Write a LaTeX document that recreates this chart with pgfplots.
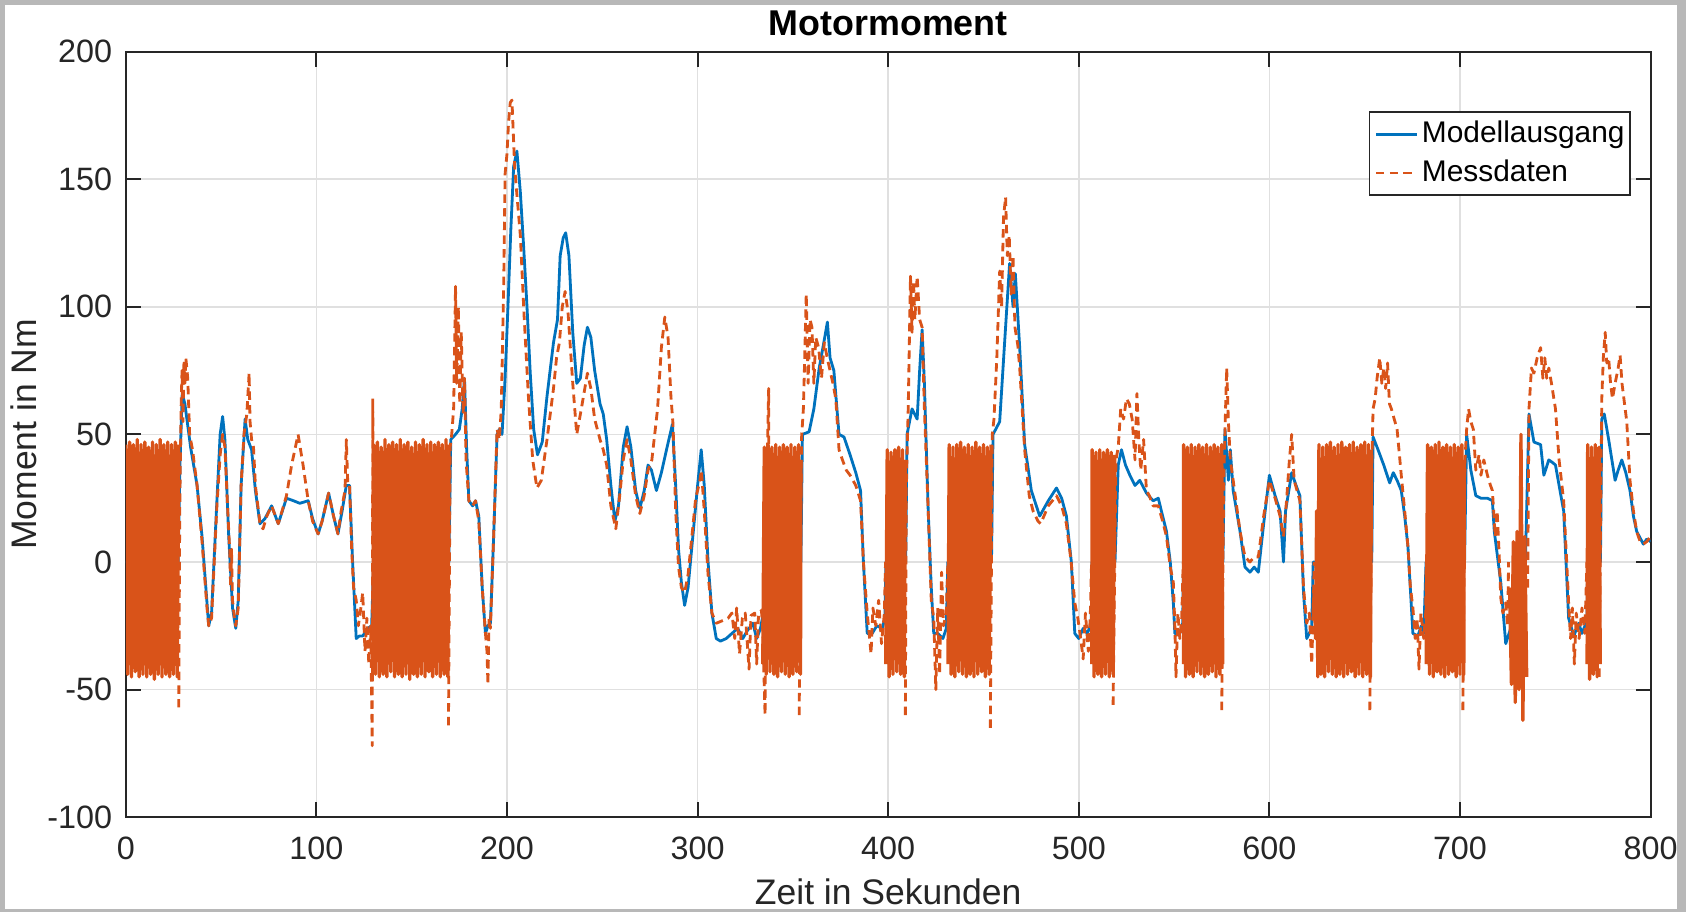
\documentclass[border=0pt]{standalone}
\usepackage{pgfplots}
\pgfplotsset{compat=1.18}
\usepackage{fontspec}
\setmainfont{Liberation Sans}
\definecolor{mblue}{rgb}{0,0.447,0.741}
\definecolor{morange}{rgb}{0.851,0.325,0.098}
\definecolor{axcol}{rgb}{0.15,0.15,0.15}
\begin{document}
\begin{tikzpicture}
\path[use as bounding box] (0,0) rectangle (16.86,9.12);
\fill[black!28] (0,0) rectangle (16.86,9.12);
\fill[white] (0.05,0.03) rectangle (16.77,9.07);
\begin{axis}[
 at={(1.258cm,0.948cm)}, anchor=south west,
 scale only axis, width=15.248cm, height=7.656cm,
 xmin=0, xmax=800, ymin=-100, ymax=200,
 xtick={0,100,...,800}, ytick={-100,-50,...,200},
 /pgf/number format/assume math mode=true,
 ticklabel style={font=\fontsize{9.2}{11}\selectfont, text=black!85},
 xticklabel style={inner sep=0pt, anchor=north, yshift=-0.19cm},
 yticklabel style={inner sep=0pt, anchor=east, xshift=-0.13cm},
 grid=major, grid style={color=black!12, line width=0.5pt},
 axis line style={color=axcol, line width=0.55pt},
 major tick style={color=axcol, line width=0.55pt}, major tick length=0.15cm,
 every axis title shift=0pt,
 title={\textbf{Motormoment}},
 title style={at={(axis description cs:0.5,1)}, anchor=center, yshift=0.28cm, font=\fontsize{10.2}{12}\selectfont},
 xlabel={Zeit in Sekunden},
 xlabel style={at={(axis description cs:0.5,0)}, anchor=center, yshift=-0.75cm, font=\fontsize{10.1}{12}\selectfont, text=black!85},
 ylabel={Moment in Nm},
 ylabel style={at={(axis description cs:-0.0669,0.5)}, anchor=center, font=\fontsize{10.1}{12}\selectfont, text=black!85},
 legend style={at={(rel axis cs:0.987,0.9224)}, anchor=north east, draw=axcol, line width=0.5pt,
   font=\fontsize{8.5}{10}\selectfont, inner xsep=0.5pt, inner ysep=0.5pt, cells={anchor=west}, row sep=-0.6pt,
   nodes={inner xsep=1pt}},
 legend image code/.code={\path (0cm,0cm); \draw[#1] (0.035cm,0cm) -- (0.445cm,0cm);},
 unbounded coords=jump,
]
% Modellausgang
\addplot[mblue, line width=0.8pt, line join=round] coordinates {
(0,0)(27.5,0)(28.5,40)(29.6,66)(31,62)(34,45)(37.4,30)(40,10)(42.6,-16)(43.5,-25)(45,-20)(47.8,24)(49.5,50)(50.8,57)(52,48)(54,10)(56,-18)(57.7,-26)(59,-15)(60.5,30)(62.6,56)(64,48)(66,44)(68,28)(70.4,15)(73,17)(76.5,22)(80,15)(84.3,25)(88,24)(91.3,23)(95.7,24)(98,17)(100.9,11)(103,16)(106.4,27)(109,18)(111.3,11)(113.5,20)(115.7,30)(117.4,30)(119,0)(120.9,-30)(122.5,-29)(124.3,-29)(127,-26)(129,-25)(130,0)
(169.5,0)(170.5,48)(173,50)(175,52)(176.5,60)(177.7,72)(178.8,45)(180,24)(182,22)(183.5,24)(185.2,18)(187,-10)(188.7,-28)(190,-25)(191.3,-24)(193,10)(194.8,50)(196,52)(197.4,50)(199,72)(200.5,100)(202,130)(203.5,155)(205.2,161)(207,145)(208.7,124)(210.5,100)(212.2,74)(214,52)(216,42)(218.5,47)(221,65)(224.4,86)(226.5,95)(227.9,120)(229.5,127)(230.8,129)(232.5,120)(234.5,90)(236.6,70)(238.5,72)(240.5,85)(242.2,92)(244,88)(246,75)(248.8,62)(250.5,58)(252.3,48)(254.5,30)(256.6,16)(258.5,22)(261,45)(263,53)(265,45)(267.5,28)(269.7,21)(272,28)(274,38)(275.8,36)(278.4,28)(281,35)(284,45)(286.8,54)(288.5,30)(290,5)(291.5,-8)(293.2,-17)(295,-10)(297.5,10)(300,30)(301.9,44)(303.5,30)(305.5,0)(307.5,-20)(309.8,-30)(312,-31)(315,-30)(318,-28)(321,-26)(323.7,-30)(326,-27)(329,-24)(331,-30)(333,-26)(334.5,-20)(335,0)
(354.2,0)(355,50)(358.5,51)(361,60)(363.8,76)(366,85)(368.1,94)(369.5,80)(371.5,75)(374.2,50)(376.8,49)(380,42)(383,35)(385.5,28)(387,0)(389,-28)(391.6,-28)(394,-25)(396.9,-26)(398.3,-22)(398.8,0)
(409.2,0)(409.9,50)(412.5,60)(415.2,56)(416.5,75)(417.8,91)(419,70)(421,20)(422.6,-10)(423.9,-28)(426,-28)(428.7,-30)(430.5,-26)(431.3,0)
(454.2,0)(455,50)(458.5,55)(461,85)(463.7,117)(465.5,100)(466.7,113)(469,84)(471.6,46)(475.1,28)(478.6,20)(479.5,18)(484,24)(488.3,29)(491,25)(493.5,18)(496.1,0)(497.9,-28)(500,-30)(502.3,-26)(504.5,-28)(506.5,-24)(507,0)
(519,0)(520.7,38)(522.4,44)(524.5,38)(526.8,34)(529.5,30)(532,32)(535.5,27)(539,24)(541.7,25)(544,18)(546,12)(548,0)(549.6,-16)(550.4,-28)(553,-28)(554.5,-24)(555,0)
(575.6,0)(576.7,52)(578.5,32)(579.5,44)(581,28)(584.6,12)(587.2,-2)(589.8,-4)(592,-2)(594.2,-4)(597,15)(600,34)(603,26)(605.6,20)(607.4,0)(608.5,20)(611.7,35)(614,30)(616,26)(617.9,-12)(619.6,-30)(622.2,-26)(623,0)
(653.7,0)(654.4,49)(657,44)(660,38)(663.1,31)(665,35)(667,32)(669.2,28)(671,18)(672.7,6)(675.3,-28)(677.9,-29)(679.7,-25)(681,-28)(682.2,0)
(702.4,0)(703.5,50)(705.7,36)(708.3,26)(711,25)(714.4,25)(717,24)(718,12)(721.4,-8)(724,-32)(726.6,-26)(729.2,-20)(731,-25)(734,-10)(736.2,58)(738.8,47)(742.3,46)(744,34)(746.6,40)(748.5,39)(750.1,38)(752,30)(754.4,20)(757,-22)(759.7,-29)(762.3,-24)(764,-28)(766.6,-23)(767,0)
(773.7,0)(774.4,56)(775.7,58)(778,48)(781.4,32)(783,36)(784.9,40)(787,35)(789.2,28)(791,18)(792.7,12)(796.2,7)(798,9)(800,8)
};
\addlegendentry{Modellausgang}
% Messdaten (smooth parts)
\addplot[morange, line width=0.8pt, dash pattern=on 2.4pt off 1.5pt, line join=round] coordinates {
(27.8,-57)(28.3,20)(29,60)(29.5,75)(30,55)(30.5,78)(31,70)(31.5,80)(32.5,72)(33.5,50)(35,44)(37.4,30)(40,8)(42.6,-18)(43.5,-25)(45,-22)(47.8,22)(49.5,42)(50.8,50)(52,45)(53.5,20)(54.5,5)(55,-10)(55.5,5)(56,-15)(57,-22)(57.7,-25)(59,-18)(60.5,30)(62,50)(63.5,58)(64.7,74)(65.2,55)(66,48)(67,45)(68,30)(70.4,15)(72,13)(74,18)(76.5,22)(78,19)(80,15)(82,20)(84.3,26)(87,38)(90.4,50)(93,38)(95.7,24)(98,16)(100.9,11)(103,16)(106.4,27)(109,18)(111.3,11)(113,20)(115,28)(115.7,48)(116.5,30)(117.4,30)(118.5,5)(119.5,-10)(120.9,-15)(122,-25)(123,-20)(124.3,-12)(125.5,-35)(126.5,-22)(127.5,-40)(128.5,-25)(129.3,-72)(129.6,64)(129.8,0)
(129.9,nan)
(169.3,-64)(170.2,45)(171,50)(172,60)(173,108)(173.6,70)(174.5,100)(175.2,62)(176,90)(177,58)(177.7,72)(178.5,40)(180,24)(182,22)(183.5,24)(185.2,16)(187,-10)(188.7,-28)(189.5,-35)(190,-48)(190.6,-22)(191.3,-26)(193,10)(194.8,52)(196,48)(197,60)(198.3,110)(199,152)(200,160)(200.8,172)(201.7,180)(202.6,181)(203.2,170)(204,155)(205.2,144)(207,128)(209,96)(211.3,64)(213.5,40)(215.7,29)(218,32)(221,48)(224.4,68)(226,80)(227.5,86)(229,100)(230.5,106)(232,98)(234.5,70)(236.6,50)(239,60)(242.2,74)(244,68)(246,56)(248.8,48)(250.5,44)(252.3,38)(254.5,22)(257.1,13)(259,25)(261,40)(263,48)(265,40)(267.5,26)(269.7,19)(272,26)(274,36)(276,40)(279,60)(281,84)(282.8,96)(284.5,88)(286,65)(287.1,54)(288.5,20)(290,-2)(291.5,-10)(293.2,-12)(295,-5)(297,10)(299,25)(301,31)(302,36)(303.5,20)(305.5,-5)(307.5,-20)(309.8,-24)(313,-23)(316,-22)(318,-20)(319.5,-30)(320.5,-18)(322,-36)(323.5,-22)(325,-20)(327,-42)(328,-21)(330,-20)(331,-40)(332,-20)(333.5,-19)(334.1,-25)(335.4,-60)(336,20)(337.3,68)(337.5,0)
(337.6,nan)
(353.3,-60)(354.5,48)(355.5,60)(356.2,80)(357,105)(358,70)(359,95)(360,92)(361,70)(362,88)(363.5,84)(365,72)(366.5,86)(368,80)(369.5,75)(371,70)(372.5,64)(374.2,44)(376,40)(378,36)(380,34)(383,30)(385.5,24)(387,0)(389,-20)(390,-28)(391,-36)(392,-18)(393.5,-25)(395,-15)(396.5,-32)(398,-20)(398.6,0)
(398.7,nan)
(409,-60)(409.5,30)(410.5,60)(411.7,112)(412.5,90)(413.3,110)(414,95)(415.2,112)(416.5,95)(417.8,92)(419,60)(421,20)(422.6,-15)(423.9,-22)(425,-50)(426,-18)(427,-44)(428,-4)(429,-25)(430.5,-20)(431.3,0)
(431.4,nan)
(453.6,-65)(454.6,50)(455.5,56)(457,80)(458.5,114)(459.5,100)(460.5,135)(461.6,143)(462.5,120)(463.5,128)(464.5,105)(465.5,120)(466.5,92)(468,85)(469,76)(471.6,44)(474,26)(476,20)(478.6,16)(480,15)(484,22)(488.3,26)(491,22)(493.5,15)(496,0)(497.9,-16)(499.5,-22)(501,-30)(502.3,-38)(503.5,-20)(505,-35)(506,-22)(506.7,0)
(506.8,nan)
(518,-56)(519.5,40)(520.7,45)(522,60)(523.5,56)(525,64)(526.5,62)(528,56)(529.5,40)(530.5,66)(531.5,48)(532.5,36)(534,48)(535.5,28)(537,26)(539,22)(541.7,22)(544,16)(546,10)(548,-2)(549.6,-8)(550.4,-25)(551,-45)(552,-20)(553,-30)(554,-22)(554.8,0)
(554.9,nan)
(575,-58)(576,30)(577,60)(577.6,76)(578.5,55)(579.5,40)(581,32)(584.6,12)(587.2,2)(589.8,0)(592,2)(594.2,2)(597,18)(600,32)(603,25)(605.6,18)(607.4,10)(609,24)(610.5,40)(611.7,50)(613,32)(616,24)(617.9,-10)(619.6,-24)(621,-20)(622.2,-40)(623,-20)(623.5,0)
(623.6,nan)
(652.7,-58)(653.8,40)(654.4,60)(655.5,64)(656.5,72)(657.9,80)(659,70)(660,76)(661,68)(662,78)(663,62)(664,60)(665.5,56)(667,52)(669.2,34)(671,20)(672.7,6)(674,-10)(675.3,-18)(676.5,-30)(677.5,-22)(678.5,-42)(679.5,-20)(681,-30)(682,-20)(682.3,0)
(682.4,nan)
(701.5,-58)(702.6,40)(703.5,52)(704.5,60)(705.7,55)(707,52)(708.3,36)(710,42)(711,34)(712.5,40)(714.4,34)(716,30)(717,28)(718.5,10)(719.5,20)(720.5,4)(721.4,-14)(722.5,-20)(724,-16)(725,-25)(725.5,0)
(725.6,nan)
(735.5,-10)(736.2,60)(737.5,76)(738.8,74)(740.5,80)(742.3,84)(743.5,72)(744.5,80)(745.5,72)(746.6,76)(748,70)(750.1,60)(752,40)(754.4,24)(756,0)(757,-16)(758,-30)(759,-18)(760,-40)(761,-20)(762.5,-30)(764,-18)(765.5,-28)(766.6,0)
(766.7,nan)
(773,-45)(774.4,64)(775.2,80)(776.2,90)(777,78)(778,80)(779,70)(780,64)(781.4,70)(783,76)(784,81)(785,70)(786,64)(787.5,55)(789.2,32)(791,20)(792.7,12)(794.5,8)(796.2,7)(798,8)(800,10)
};
\addlegendentry{Messdaten}
% Messdaten (dense oscillating stretches)
\addplot[morange, line width=0.95pt, solid, line join=round, forget plot] coordinates {
(0,46)(1,-44)(2,47)(3,-45)(4,46)(5,-43)(6,48)(7,-45)(8,46)(9,-44)(10,47)(11,-45)(12,45)(13,-44)(14,47)(15,-46)(16,46)(17,-44)(18,48)(19,-45)(20,46)(21,-44)(22,47)(23,-45)(24,46)(25,-44)(26,47)(27,-45)(27.8,46)
(28,nan)
(129.6,-44)(130,46)(131,-44)(132,47)(133,-45)(134,45)(135,-44)(136,48)(137,-45)(138,46)(139,-43)(140,47)(141,-45)(142,46)(143,-44)(144,48)(145,-45)(146,46)(147,-44)(148,47)(149,-46)(150,45)(151,-44)(152,47)(153,-45)(154,46)(155,-44)(156,48)(157,-45)(158,46)(159,-43)(160,47)(161,-45)(162,46)(163,-44)(164,47)(165,-45)(166,46)(167,-44)(168,48)(169,-45)(169.6,46)
(169.7,nan)
(334.2,-40)(335,45)(336,-44)(337,46)(338,-43)(339,45)(340,-44)(341,46)(342,-45)(343,45)(344,-43)(345,46)(346,-44)(347,45)(348,-45)(349,46)(350,-44)(351,45)(352,-43)(353,46)(354,-44)(354.2,40)
(354.3,nan)
(398.7,-40)(399.5,44)(400.5,-45)(401.5,43)(402.5,-44)(403.5,44)(404.5,-43)(405.5,45)(406.5,-44)(407.5,44)(408.5,-45)(409,40)
(409.1,nan)
(431.4,-40)(432,46)(433,-44)(434,45)(435,-45)(436,46)(437,-43)(438,47)(439,-44)(440,45)(441,-45)(442,46)(443,-44)(444,45)(445,-45)(446,47)(447,-44)(448,45)(449,-43)(450,46)(451,-45)(452,45)(453,-44)(454,46)
(454.2,nan)
(506.8,-40)(507,44)(508,-45)(509,43)(510,-44)(511,44)(512,-45)(513,43)(514,-44)(515,44)(516,-45)(517,43)(518,-44)(518.9,42)
(519,nan)
(554.9,-40)(555,46)(556,-45)(557,45)(558,-44)(559,46)(560,-45)(561,45)(562,-43)(563,46)(564,-44)(565,45)(566,-45)(567,46)(568,-44)(569,45)(570,-43)(571,46)(572,-45)(573,45)(574,-44)(575,46)(575.5,-40)
(575.6,nan)
(623,-20)(623.6,-10)(624.2,-30)(624.8,20)(625.4,-45)(626,46)(627,-44)(628,45)(629,-45)(630,46)(631,-43)(632,47)(633,-44)(634,45)(635,-45)(636,46)(637,-44)(638,47)(639,-45)(640,45)(641,-44)(642,46)(643,-43)(644,47)(645,-45)(646,45)(647,-44)(648,46)(649,-45)(650,47)(651,-44)(652,46)(653,-45)(653.6,44)
(653.7,nan)
(682.3,-40)(683,46)(684,-44)(685,45)(686,-45)(687,46)(688,-43)(689,47)(690,-44)(691,45)(692,-45)(693,46)(694,-44)(695,45)(696,-43)(697,46)(698,-45)(699,45)(700,-44)(701,46)(702,-44)(702.3,40)
(702.4,nan)
(726,-10)(727,-48)(728,8)(729,-55)(730,12)(731,-50)(732,50)(733,-62)(734,10)(735,-45)
(735.2,nan)
(766.7,-40)(767,46)(768,-46)(769,45)(770,-44)(771,46)(772,-45)(773,45)(773.6,-40)
};
\end{axis}
\end{tikzpicture}
\end{document}
